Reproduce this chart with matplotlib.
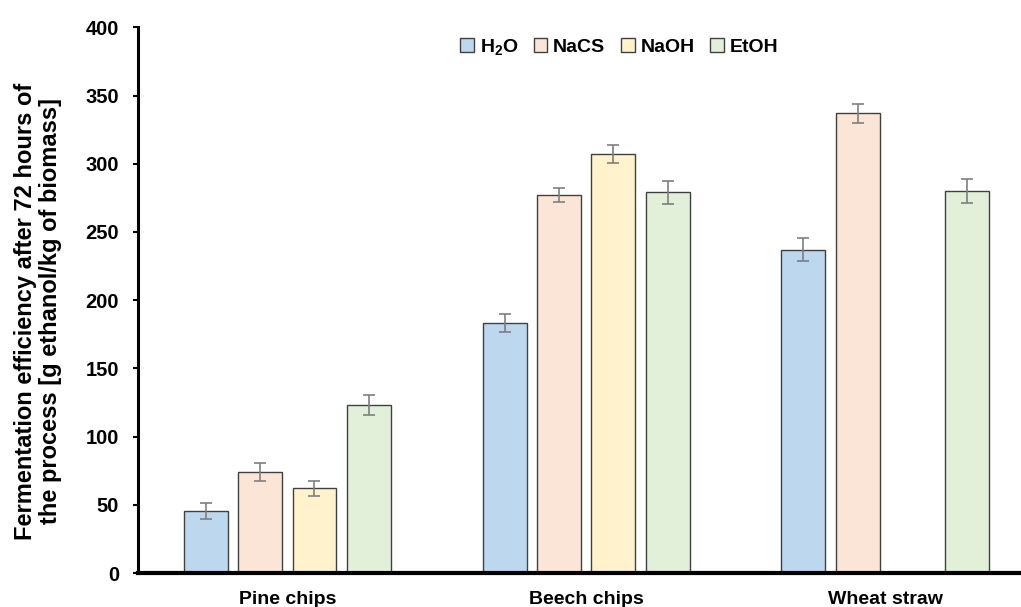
import numpy as np
import matplotlib
matplotlib.use("Agg")
import matplotlib.pyplot as plt

categories = ["Pine chips", "Beech chips", "Wheat straw"]
series = ["H$_2$O", "NaCS", "NaOH", "EtOH"]
h2o = [45.5, 183, 237]
nacs = [74, 277, 337]
naoh = [62, 307, np.nan]
etoh = [123, 279, 280]
h2o_err = [6, 6.5, 8.5]
nacs_err = [6.5, 5, 7]
naoh_err = [5.5, 6.5, np.nan]
etoh_err = [7.5, 8.5, 8.5]
yticks = [0, 50, 100, 150, 200, 250, 300, 350, 400]

colors = ["#BDD7EE", "#FBE5D6", "#FFF2CC", "#E2F0D9"]
values = [h2o, nacs, naoh, etoh]
errs = [h2o_err, nacs_err, naoh_err, etoh_err]

plt.rcParams['font.family'] = ['Liberation Sans', 'DejaVu Sans']
plt.rcParams['mathtext.fontset'] = 'custom'
plt.rcParams['mathtext.rm'] = 'Liberation Sans:bold'
plt.rcParams['mathtext.default'] = 'rm'
fig = plt.figure(figsize=(10.21, 6.07), dpi=100)
ax = fig.add_axes([0.135, 0.056, 0.865, 0.899])

x = np.arange(len(categories))
slot = 0.182
width = 0.147
for i, (vals, er, c, name) in enumerate(zip(values, errs, colors, series)):
    pos = x + (i - 1.5) * slot
    ax.bar(pos, vals, width=width, color=c, edgecolor="#404040", linewidth=1.0,
           label=name, zorder=2)
    ax.errorbar(pos, vals, yerr=er, fmt="none", ecolor="#7F7F7F", elinewidth=1.2,
                capsize=4, capthick=1.2, zorder=3)

ax.set_xlim(-0.5, 2.455)
ax.set_ylim(0, 400)
ax.set_yticks(yticks)
ax.set_xticks(x)
ax.set_xticklabels(categories, fontsize=14, fontweight="bold")
ax.tick_params(axis="x", length=0, pad=13)
ax.tick_params(axis="y", length=3.5, width=1.5, direction="out", labelsize=14.5, pad=10)
for lab in ax.get_yticklabels():
    lab.set_fontweight("bold")
for s in ["top", "right"]:
    ax.spines[s].set_visible(False)
ax.spines["left"].set_linewidth(2.2)
ax.spines["bottom"].set_linewidth(3)
ax.set_ylabel("Fermentation efficiency after 72 hours of\nthe process [g ethanol/kg of biomass]",
              fontsize=17, fontweight="bold", labelpad=12, linespacing=1.1)
ax.yaxis.set_label_coords(-0.086, 0.48)

leg = ax.legend(loc="upper center", bbox_to_anchor=(0.545, 1.015), ncol=4, frameon=False,
                prop={"weight": "bold", "size": 14}, handlelength=0.7, handleheight=0.7,
                handletextpad=0.3, columnspacing=0.8)
fig.savefig("out.png", dpi=100)
